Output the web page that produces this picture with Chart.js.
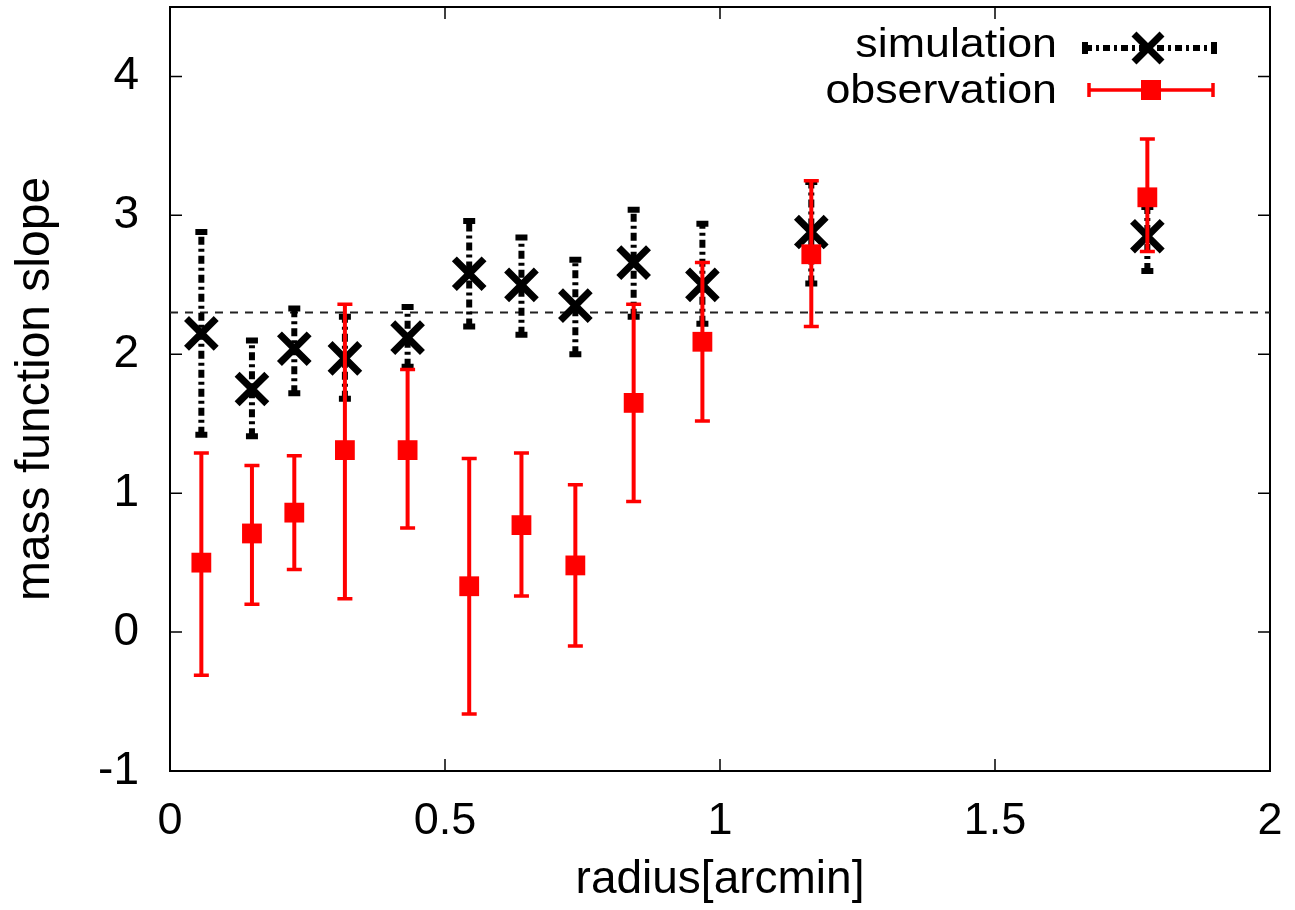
<!DOCTYPE html>
<html>
<head>
<meta charset="utf-8">
<script src="https://cdn.jsdelivr.net/npm/chart.js@4/dist/chart.umd.min.js"></script>
<style>
  html, body { margin: 0; padding: 0; background: #fff; }
  #wrap { width: 1295px; height: 910px; }
</style>
</head>
<body>
<div id="wrap"><canvas id="chart" width="1295" height="910"></canvas></div>
<script>
// radius of each annulus (arcmin)
const radius = [0.057, 0.149, 0.226, 0.318, 0.432, 0.544, 0.639, 0.737, 0.843, 0.968, 1.166, 1.777];

// observation: slope and error range
const obsSlope = [0.50, 0.71, 0.86, 1.31, 1.31, 0.33, 0.77, 0.48, 1.65, 2.09, 2.72, 3.13];
const obsLow   = [-0.31, 0.20, 0.45, 0.24, 0.75, -0.59, 0.26, -0.10, 0.94, 1.52, 2.20, 2.74];
const obsHigh  = [1.29, 1.20, 1.27, 2.36, 1.89, 1.25, 1.29, 1.06, 2.36, 2.66, 3.25, 3.55];

// simulation: slope and error range
const simSlope = [2.15, 1.75, 2.04, 1.97, 2.12, 2.58, 2.50, 2.35, 2.66, 2.50, 2.88, 2.85];
const simLow   = [1.42, 1.41, 1.72, 1.68, 1.91, 2.20, 2.14, 2.00, 2.27, 2.22, 2.51, 2.60];
const simHigh  = [2.88, 2.10, 2.33, 2.27, 2.34, 2.96, 2.84, 2.68, 3.04, 2.94, 3.24, 3.06];

// Salpeter reference slope
const refSlope = 2.3;
const refRange = [0, 2];

const xTicks = [0, 0.5, 1, 1.5, 2];
const yTicks = [-1, 0, 1, 2, 3, 4];

const FONT = "'Liberation Sans', Arial, Helvetica, sans-serif";

function pts(xs, ys) {
    return xs.map((x, i) => ({ x: x, y: ys[i] }));
}

// error bars, drawn right before their own dataset
const errorBars = {
    id: 'errorBars',
    beforeDatasetDraw(chart, args) {
        const ds = chart.data.datasets[args.index];
        if (!ds.errLow) return;
        const ctx = chart.ctx;
        const x = chart.scales.x, y = chart.scales.y;
        ctx.save();
        ctx.strokeStyle = ds.errColor;
        ctx.lineWidth = ds.errWidth;
        ctx.setLineDash(ds.errDash);
        ds.data.forEach((p, i) => {
            const px = x.getPixelForValue(p.x);
            const lo = y.getPixelForValue(ds.errLow[i]);
            const hi = y.getPixelForValue(ds.errHigh[i]);
            ctx.beginPath();
            ctx.moveTo(px, lo);
            ctx.lineTo(px, hi);
            ctx.stroke();
            ctx.save();
            ctx.setLineDash([]);
            ctx.lineWidth = ds.capWidth;
            ctx.beginPath();
            ctx.moveTo(px - ds.capSize, lo); ctx.lineTo(px + ds.capSize, lo);
            ctx.moveTo(px - ds.capSize, hi); ctx.lineTo(px + ds.capSize, hi);
            ctx.stroke();
            ctx.restore();
        });
        ctx.restore();
    }
};

// gnuplot style frame with inward ticks on all four sides
const frame = {
    id: 'frame',
    beforeDatasetsDraw(chart) {
        const { ctx, chartArea: a } = chart;
        const x = chart.scales.x, y = chart.scales.y;
        const len = 12;
        ctx.save();
        ctx.strokeStyle = '#000';
        ctx.lineWidth = 1.5;
        ctx.beginPath();
        x.ticks.forEach(t => {
            const px = x.getPixelForValue(t.value);
            ctx.moveTo(px, a.bottom); ctx.lineTo(px, a.bottom - len);
            ctx.moveTo(px, a.top); ctx.lineTo(px, a.top + len);
        });
        y.ticks.forEach(t => {
            const py = y.getPixelForValue(t.value);
            ctx.moveTo(a.left, py); ctx.lineTo(a.left + len, py);
            ctx.moveTo(a.right, py); ctx.lineTo(a.right - len, py);
        });
        ctx.stroke();
        ctx.lineWidth = 2;
        ctx.strokeRect(a.left, a.top, a.right - a.left, a.bottom - a.top);
        ctx.restore();
    }
};

// legend in the top right corner: text right aligned, sample after it
const keyBox = {
    id: 'keyBox',
    afterDatasetsDraw(chart) {
        const ctx = chart.ctx;
        ctx.save();
        ctx.fillStyle = '#000';
        ctx.textAlign = 'right';
        ctx.textBaseline = 'alphabetic';
        ctx.font = '40px ' + FONT;
        ctx.save(); ctx.translate(1057, 57); ctx.scale(1.12, 1); ctx.fillText('simulation', 0, 0); ctx.restore();
        ctx.save(); ctx.translate(1057, 103); ctx.scale(1.12, 1); ctx.fillText('observation', 0, 0); ctx.restore();

        // simulation sample
        ctx.strokeStyle = '#000';
        ctx.lineWidth = 6;
        ctx.setLineDash([7, 4, 3, 4]);
        ctx.beginPath(); ctx.moveTo(1085, 48); ctx.lineTo(1217, 48); ctx.stroke();
        ctx.setLineDash([]);
        ctx.beginPath();
        ctx.moveTo(1085, 42); ctx.lineTo(1085, 54);
        ctx.moveTo(1214, 42); ctx.lineTo(1214, 54);
        ctx.stroke();
        ctx.lineWidth = 7;
        ctx.beginPath();
        ctx.moveTo(1134, 34); ctx.lineTo(1162, 62);
        ctx.moveTo(1162, 34); ctx.lineTo(1134, 62);
        ctx.stroke();

        // observation sample
        ctx.strokeStyle = '#ff0000';
        ctx.fillStyle = '#ff0000';
        ctx.lineWidth = 3.5;
        ctx.beginPath();
        ctx.moveTo(1088, 90); ctx.lineTo(1214, 90);
        ctx.moveTo(1089, 83); ctx.lineTo(1089, 97);
        ctx.moveTo(1213, 83); ctx.lineTo(1213, 97);
        ctx.stroke();
        ctx.fillRect(1141, 80, 20, 20);
        ctx.restore();
    }
};

function noPad(s) {
    s.paddingTop = 0;
    s.paddingBottom = 0;
    s.paddingLeft = 0;
    s.paddingRight = 0;
}

new Chart(document.getElementById('chart'), {
    type: 'scatter',
    data: {
        datasets: [
            {
                label: 'observation',
                data: pts(radius, obsSlope),
                errLow: obsLow, errHigh: obsHigh,
                errColor: '#ff0000', errWidth: 4, errDash: [], capWidth: 3.5, capSize: 7.5,
                pointStyle: 'rect',
                pointRadius: 14,
                backgroundColor: '#ff0000',
                borderColor: '#ff0000',
                borderWidth: 0,
                showLine: false
            },
            {
                label: 'simulation',
                data: pts(radius, simSlope),
                errLow: simLow, errHigh: simHigh,
                errColor: '#000', errWidth: 6, errDash: [8, 4, 3, 4], capWidth: 6, capSize: 6,
                pointStyle: 'crossRot',
                pointRadius: 21,
                borderColor: '#000',
                backgroundColor: '#000',
                borderWidth: 7,
                showLine: false
            },
            {
                label: 'reference',
                data: refRange.map(v => ({ x: v, y: refSlope })),
                showLine: true,
                pointRadius: 0,
                borderColor: '#222',
                borderWidth: 2,
                borderDash: [8, 7]
            }
        ]
    },
    options: {
        responsive: false,
        animation: false,
        events: [],
        layout: { autoPadding: false, padding: { top: 7, right: 25, left: 0, bottom: 0 } },
        plugins: {
            legend: { display: false },
            tooltip: { enabled: false }
        },
        scales: {
            x: {
                type: 'linear',
                min: 0,
                max: 2,
                afterBuildTicks: s => { s.ticks = xTicks.map(v => ({ value: v })); },
                afterFit: s => { s.height = 139; noPad(s); },
                grid: { display: false, drawTicks: false },
                border: { display: false },
                ticks: {
                    color: '#000',
                    padding: 24,
                    font: { family: FONT, size: 45 },
                    maxRotation: 0,
                    callback: v => String(v)
                },
                title: {
                    display: true,
                    text: 'radius[arcmin]',
                    color: '#000',
                    font: { family: FONT, size: 46 },
                    padding: { top: 0, bottom: 2 }
                }
            },
            y: {
                type: 'linear',
                min: -1,
                max: 4.5,
                afterBuildTicks: s => { s.ticks = yTicks.map(v => ({ value: v })); },
                afterFit: s => { s.width = 170; noPad(s); },
                grid: { display: false, drawTicks: false },
                border: { display: false },
                ticks: {
                    color: '#000',
                    padding: 31,
                    font: { family: FONT, size: 46 },
                    callback: v => String(v)
                },
                title: {
                    display: true,
                    text: 'mass function slope',
                    color: '#000',
                    font: { family: FONT, size: 48 },
                    padding: { top: 7, bottom: 0 }
                }
            }
        }
    },
    plugins: [frame, errorBars, keyBox]
});
</script>
</body>
</html>
